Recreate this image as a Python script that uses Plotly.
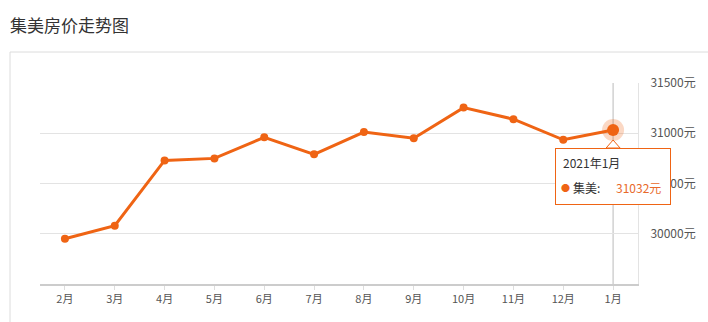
import plotly.graph_objects as go

months = ["2月", "3月", "4月", "5月", "6月", "7月", "8月", "9月", "10月", "11月", "12月", "1月"]
prices = [29950, 30080, 30730, 30750, 30960, 30790, 31012, 30950, 31255, 31140, 30935, 31032]
y_ticks = [30000, 30500, 31000, 31500]
y_tick_labels = ["30000元", "30500元", "31000元", "31500元"]
title_text = "集美房价走势图"
series_name = "集美"
hover_title = "2021年1月"

ORANGE = "#ef6414"
FONT = "Noto Sans CJK SC, sans-serif"
W, H = 708, 322
L, R, T, B = 40, 70, 83, 38
pw, ph = W - L - R, H - T - B

def px_x(p):
    return (p - L) / pw

def px_y(p):
    return (H - B - p) / ph

fig = go.Figure()
fig.add_trace(go.Scatter(
    x=months, y=prices, mode="lines+markers",
    line=dict(color=ORANGE, width=3),
    marker=dict(color=ORANGE, size=8),
    hoverinfo="skip", showlegend=False,
))
fig.add_trace(go.Scatter(
    x=[months[-1]], y=[prices[-1]], mode="markers",
    marker=dict(color="rgba(239,100,20,0.25)", size=22),
    hoverinfo="skip", showlegend=False,
))
fig.add_trace(go.Scatter(
    x=[months[-1]], y=[prices[-1]], mode="markers",
    marker=dict(color=ORANGE, size=12),
    hoverinfo="skip", showlegend=False,
))

fig.add_shape(type="rect", xref="paper", yref="paper",
              x0=px_x(10), x1=px_x(720), y0=px_y(340), y1=px_y(52),
              line=dict(color="#dcdcdc", width=1), fillcolor="rgba(0,0,0,0)", layer="below")
fig.add_shape(type="line", xref="x", yref="paper", x0=months[-1], x1=months[-1], y0=0, y1=1,
              line=dict(color="#bbbbbb", width=1), layer="below")
# caret of the tooltip
fig.add_shape(
    type="path", xref="x", yref="y", xsizemode="pixel", ysizemode="pixel",
    xanchor=len(months) - 1, yanchor=prices[-1],
    path="M -7,-18 L 0,-10 L 7,-18 Z",
    line=dict(color=ORANGE, width=1), fillcolor="white", layer="above",
)

# tooltip box
fig.add_annotation(
    x=months[-1], y=prices[-1], xref="x", yref="y", text=" ", showarrow=False,
    xshift=0, yshift=-46, width=114, height=55, borderpad=0,
    bgcolor="white", bordercolor=ORANGE, borderwidth=1,
)
fig.add_annotation(
    x=months[-1], y=prices[-1], xref="x", yref="y", text=hover_title, showarrow=False,
    xanchor="left", yanchor="middle", xshift=-52, yshift=-32,
    font=dict(size=12, family=FONT, color="#333"),
)
fig.add_annotation(
    x=months[-1], y=prices[-1], xref="x", yref="y", text="●", showarrow=False,
    xanchor="center", yanchor="middle", xshift=-48, yshift=-57,
    font=dict(size=9, family=FONT, color=ORANGE),
)
fig.add_annotation(
    x=months[-1], y=prices[-1], xref="x", yref="y", text=series_name + ":", showarrow=False,
    xanchor="left", yanchor="middle", xshift=-42, yshift=-57,
    font=dict(size=12, family=FONT, color="#333"),
)
fig.add_annotation(
    x=months[-1], y=prices[-1], xref="x", yref="y", text=f"{prices[-1]}元", showarrow=False,
    xanchor="left", yanchor="middle", xshift=1, yshift=-57,
    font=dict(size=12, family=FONT, color="#e8692a"),
)

fig.add_annotation(
    xref="paper", yref="paper", x=px_x(8), y=px_y(25), xanchor="left", yanchor="middle",
    text=title_text, showarrow=False,
    font=dict(size=17, family=FONT, color="#333"),
)

fig.update_layout(
    width=W, height=H,
    margin=dict(l=L, r=R, t=T, b=B),
    paper_bgcolor="white", plot_bgcolor="white",
    font=dict(family=FONT, size=11, color="#555"),
    xaxis=dict(
        type="category", range=[-0.5, 11.5],
        showgrid=False, showline=True, linecolor="#cccccc", linewidth=2,
        ticks="outside", ticklen=4, tickcolor="#dddddd",
        tickfont=dict(size=11, color="#555"), fixedrange=True,
    ),
    yaxis=dict(
        side="right", range=[29500, 31500], tickmode="array",
        tickvals=y_ticks, ticktext=y_tick_labels,
        showgrid=True, gridcolor="#e3e3e3", gridwidth=1, zeroline=False,
        showline=True, linecolor="#e3e3e3", linewidth=1,
        ticks="", ticklabelstandoff=9,
        tickfont=dict(size=12, color="#555"), fixedrange=True,
    ),
)

fig.write_html("out.html")
